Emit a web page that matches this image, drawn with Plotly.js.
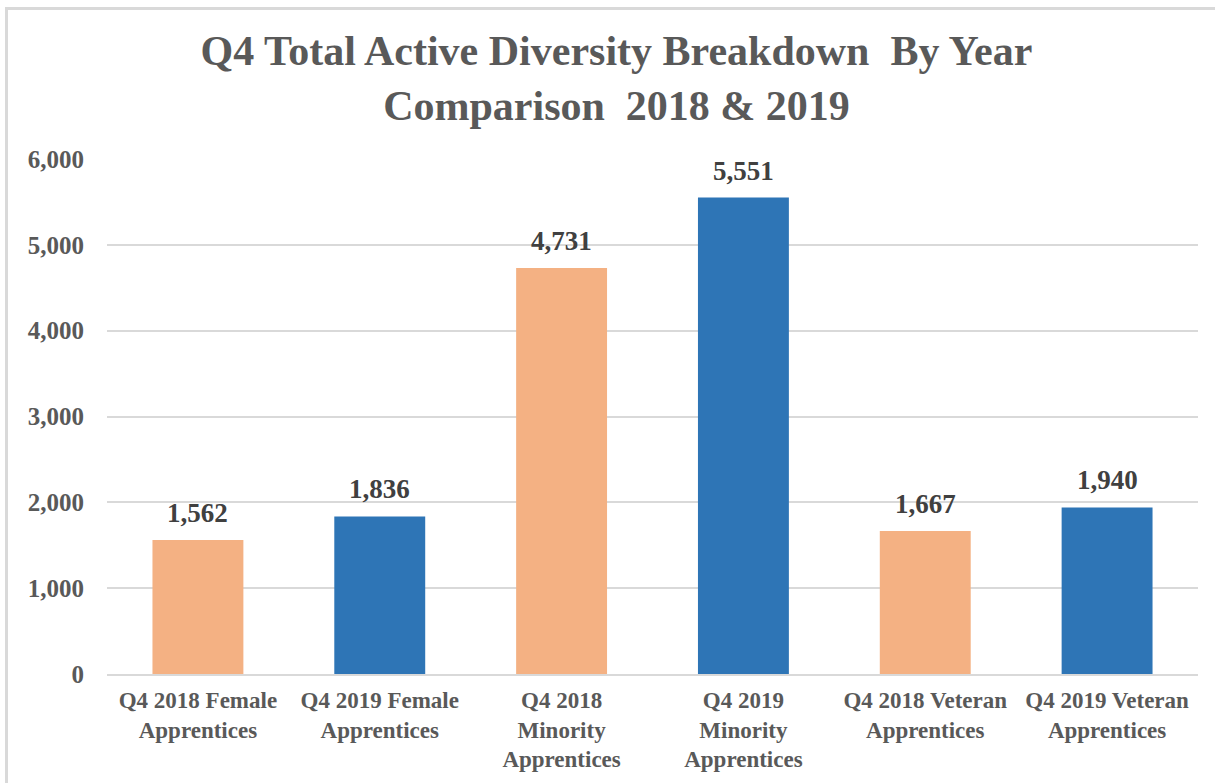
<!DOCTYPE html>
<html>
<head>
<meta charset="utf-8">
<script src="https://cdn.plot.ly/plotly-3.0.1.min.js"></script>
<style>
  html, body { margin: 0; padding: 0; background: #ffffff; }
  #wrap { position: relative; width: 1215px; height: 783px; overflow: hidden; }
  #chart { position: absolute; left: 0; top: 0; width: 1215px; height: 783px; }
  #frame { position: absolute; left: 5px; top: 7px; width: 1240px; height: 800px;
           border: 3px solid #d9d9d9; box-sizing: border-box; pointer-events: none; }
</style>
</head>
<body>
<div id="wrap">
  <div id="chart"></div>
  <div id="frame"></div>
</div>
<script>
const categories = [
  "Q4 2018 Female<br>Apprentices",
  "Q4 2019 Female<br>Apprentices",
  "Q4 2018<br>Minority<br>Apprentices",
  "Q4 2019<br>Minority<br>Apprentices",
  "Q4 2018 Veteran<br>Apprentices",
  "Q4 2019 Veteran<br>Apprentices"
];
const values = [1562, 1836, 4731, 5551, 1667, 1940];
const years = ["2018", "2019", "2018", "2019", "2018", "2019"];
const yearColors = { "2018": "#F4B183", "2019": "#2E75B6" };
const yTickVals = [0, 1000, 2000, 3000, 4000, 5000, 6000];
const yTickText = ["0", "1,000", "2,000", "3,000", "4,000", "5,000", "6,000"];
const titleText = "Q4 Total Active Diversity Breakdown\u00a0 By Year<br>Comparison\u00a0 2018 & 2019";

const serif = "'Liberation Serif', 'Times New Roman', serif";

const trace = {
  type: "bar",
  x: categories,
  y: values,
  width: 0.5,
  marker: { color: years.map(y => yearColors[y]) },
  hoverinfo: "x+y"
};

const valueLabels = categories.map((c, i) => ({
  x: c,
  y: values[i],
  xref: "x",
  yref: "y",
  text: values[i].toLocaleString("en-US"),
  showarrow: false,
  yanchor: "bottom",
  yshift: 10,
  font: { family: serif, size: 27, color: "#404040", weight: "bold" }
}));

const layout = {
  width: 1215,
  height: 783,
  margin: { l: 107, r: 17, t: 159, b: 109 },
  paper_bgcolor: "rgba(0,0,0,0)",
  plot_bgcolor: "#ffffff",
  showlegend: false,
  bargap: 0.5,
  title: {
    text: titleText,
    font: { family: serif, size: 42, color: "#595959", weight: "bold" },
    x: 0.5 + 9 / 1215,
    xanchor: "center",
    xref: "container",
    yref: "container",
    y: 1 - 65 / 783,
    yanchor: "middle"
  },
  annotations: valueLabels,
  xaxis: {
    type: "category",
    showgrid: false,
    showline: true,
    linecolor: "#d9d9d9",
    linewidth: 2,
    ticks: "",
    ticklabelstandoff: 4,
    tickfont: { family: serif, size: 23, color: "#595959", weight: "bold" },
    automargin: false
  },
  yaxis: {
    range: [0, 6000],
    tickvals: yTickVals,
    ticktext: yTickText,
    showgrid: true,
    gridcolor: "#d9d9d9",
    gridwidth: 2,
    zeroline: false,
    showline: false,
    ticks: "",
    ticklabelstandoff: 22,
    tickfont: { family: serif, size: 25, color: "#595959", weight: "bold" },
    automargin: false
  }
};

Plotly.newPlot("chart", [trace], layout, { displayModeBar: false, staticPlot: true });
</script>
</body>
</html>
